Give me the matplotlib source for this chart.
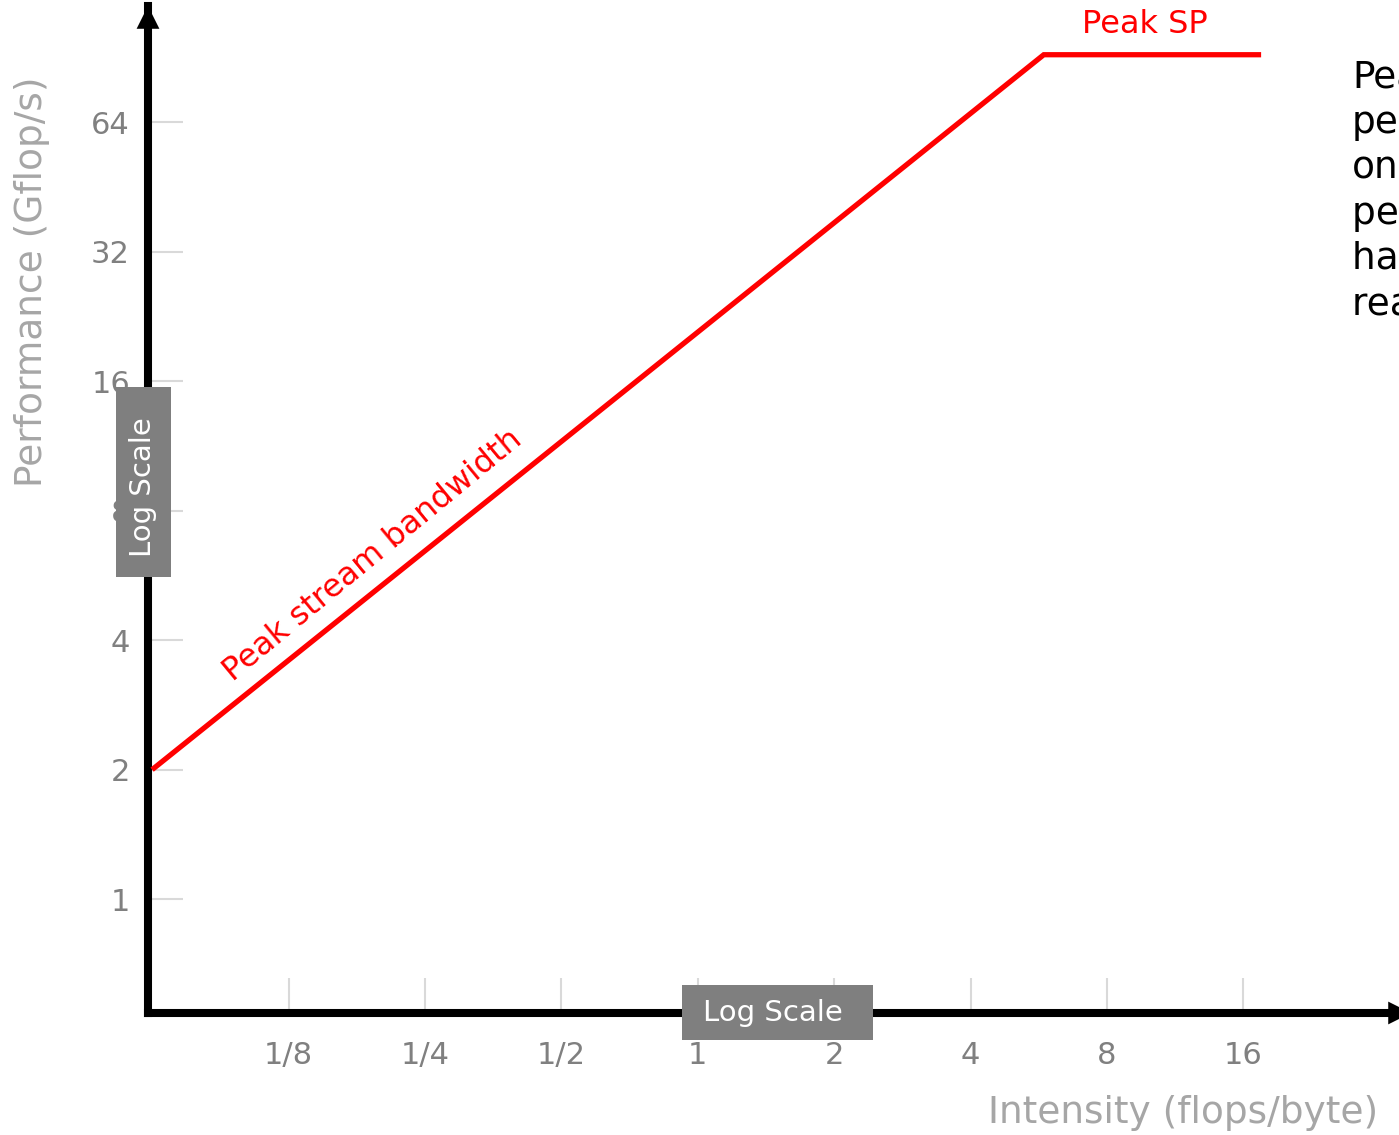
import math
import matplotlib
matplotlib.use("Agg")
import matplotlib.pyplot as plt
from matplotlib.patches import Rectangle

# Roofline corners: arithmetic intensity (flops/byte) vs attainable performance (Gflop/s)
roof_intensity = [1 / 16, 5.8, 17.5]
roof_perf = [2, 92, 92]

x_ticks = [1 / 8, 1 / 4, 1 / 2, 1, 2, 4, 8, 16]
x_tick_labels = ["1/8", "1/4", "1/2", "1", "2", "4", "8", "16"]
y_ticks = [1, 2, 4, 8, 16, 32, 64]
y_tick_labels = ["1", "2", "4", "8", "16", "32", "64"]

side_note = ["Peak", "performance", "only", "per core if", "hardware can", "reach it"]

W, H = 1399, 1135
fig = plt.figure(figsize=(W / 100, H / 100), dpi=100)
plt.rcParams["font.family"] = ["DejaVu Sans"]


def fx(px):
    return px / W


def fy(py):
    return 1 - py / H


ax_left, ax_right, ax_top, ax_bottom = 148, 1399, 6, 1013
ax = fig.add_axes([fx(ax_left), fy(ax_bottom),
                   (ax_right - ax_left) / W, (ax_bottom - ax_top) / H])
ax.set_xscale("log", base=2)
ax.set_yscale("log", base=2)
ax.set_xlim(2 ** -4.03, 2 ** 5.14)
ax.set_ylim(2 ** -0.88, 2 ** 6.90)
ax.patch.set_alpha(0)

ax.xaxis.set_major_locator(matplotlib.ticker.FixedLocator(x_ticks))
ax.xaxis.set_major_formatter(matplotlib.ticker.FixedFormatter(x_tick_labels))
ax.yaxis.set_major_locator(matplotlib.ticker.FixedLocator(y_ticks))
ax.yaxis.set_major_formatter(matplotlib.ticker.FixedFormatter(y_tick_labels))
ax.xaxis.set_minor_locator(matplotlib.ticker.NullLocator())
ax.yaxis.set_minor_locator(matplotlib.ticker.NullLocator())

tick_gray = "#d9d9d9"
label_gray = "#808080"
ax.tick_params(axis="both", direction="in", length=25, width=1.5,
               color=tick_gray, labelcolor=label_gray, labelsize=22)
ax.tick_params(axis="y", pad=13)
ax.tick_params(axis="x", pad=20)

for side in ("top", "right"):
    ax.spines[side].set_visible(False)
for side in ("left", "bottom"):
    ax.spines[side].set_linewidth(5.8)
    ax.spines[side].set_color("black")
    ax.spines[side].set_capstyle("projecting")

# Arrow heads on both axes
head = dict(arrowstyle="-|>,head_length=0.4,head_width=0.2", color="black",
            lw=0, mutation_scale=41, shrinkA=0, shrinkB=0)
ax.annotate("", xy=(0, 1.0), xytext=(0, 0.97), xycoords="axes fraction",
            arrowprops=head, annotation_clip=False)
ax.annotate("", xy=(1.0096, 0), xytext=(0.98, 0), xycoords="axes fraction",
            arrowprops=head, annotation_clip=False)

# Roofline
red = "#ff0000"
ax.plot(roof_intensity, roof_perf, color=red, lw=3.8, solid_capstyle="butt",
        solid_joinstyle="miter", zorder=4, clip_on=False)

fig.canvas.draw()
p0 = ax.transData.transform((roof_intensity[0], roof_perf[0]))
p1 = ax.transData.transform((roof_intensity[1], roof_perf[1]))
slope_deg = math.degrees(math.atan2(p1[1] - p0[1], p1[0] - p0[0]))

ax.text(0.192, 6.3, "Peak stream bandwidth", color=red, fontsize=23,
        rotation=slope_deg + 0.8, rotation_mode="anchor", ha="center",
        va="center", zorder=5)
ax.text(9.7, 108, "Peak SP", color=red, fontsize=23, ha="center",
        va="center", zorder=5, clip_on=False)

# Axis titles
title_gray = "#a6a6a6"
fig.text(fx(32), fy(282), "Performance (Gflop/s)", rotation=90, ha="center",
         va="center", fontsize=27, color=title_gray)
fig.text(fx(1183), fy(1113), "Intensity (flops/byte)", ha="center",
         va="center", fontsize=27, color=title_gray)

# "Log Scale" tags
box_gray = "#7f7f7f"
fig.add_artist(Rectangle((fx(682), fy(1040)), (873 - 682) / W, (1040 - 985) / H,
                         transform=fig.transFigure, facecolor=box_gray,
                         edgecolor="none", zorder=6))
fig.text(fx(773), fy(1013), "Log Scale", ha="center", va="center",
         fontsize=21, color="white", zorder=7)
fig.add_artist(Rectangle((fx(116), fy(577)), (171 - 116) / W, (577 - 387) / H,
                         transform=fig.transFigure, facecolor=box_gray,
                         edgecolor="none", zorder=6))
fig.text(fx(143), fy(487), "Log Scale", ha="center", va="center",
         rotation=90, fontsize=21, color="white", zorder=7)

# Side note
fig.text(fx(1352), fy(60), "\n".join(side_note), ha="left", va="top",
         fontsize=27, linespacing=1.33, color="black")

fig.savefig("out.png", dpi=100)
